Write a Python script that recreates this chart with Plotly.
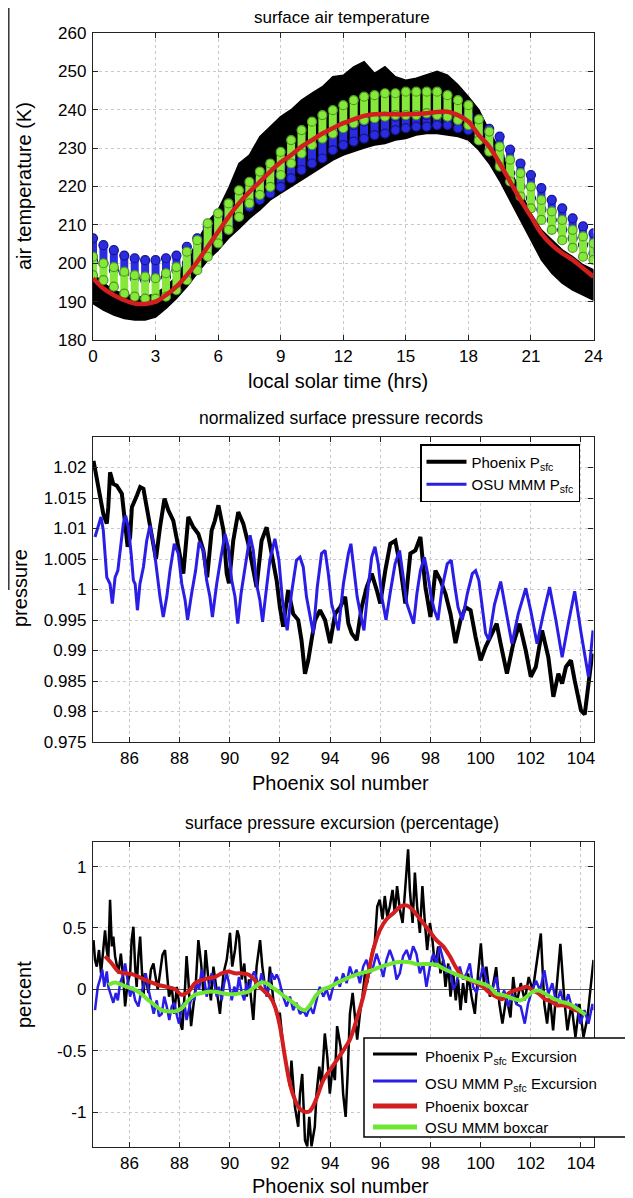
import plotly.graph_objects as go

# ---------------- Panel 1 : surface air temperature ----------------
hours = [0, 0.5, 1, 1.5, 2, 2.5, 3, 3.5, 4, 4.5,
         5, 5.5, 6, 6.5, 7, 7.5, 8, 8.5, 9, 9.5,
         10, 10.5, 11, 11.5, 12, 12.5, 13, 13.5, 14, 14.5,
         15, 15.5, 16, 16.5, 17, 17.5, 18, 18.5, 19, 19.5,
         20, 20.5, 21, 21.5, 22, 22.5, 23, 23.5, 24]

phx_T_hi = [197.4, 194.8, 193.0, 192.0, 191.3, 191.3, 192.1, 194.0, 196.5, 200.8,
            205.6, 210.8, 213.9, 219.5, 226.0, 228.2, 233.0, 235.6, 238.2, 240.0,
            242.5, 244.3, 246.0, 248.6, 249.0, 251.2, 252.5, 249.5, 251.2, 248.6,
            247.7, 248.2, 249.0, 250.0, 249.0, 246.5, 243.4, 240.0, 234.5, 229.5,
            224.5, 218.7, 213.0, 208.7, 206.0, 203.5, 201.7, 199.6, 198.3]
phx_T_lo = [189.5, 187.8, 186.5, 185.6, 185.2, 185.2, 186.0, 188.2, 190.8, 193.9,
            197.4, 200.8, 203.4, 206.5, 209.0, 211.7, 213.9, 216.5, 218.2, 220.0,
            221.7, 223.4, 225.2, 226.9, 228.2, 229.1, 230.0, 230.8, 231.2, 232.1,
            232.5, 233.4, 233.8, 233.8, 233.4, 233.0, 232.1, 229.5, 226.0, 221.5,
            216.5, 211.5, 206.0, 200.9, 197.4, 194.8, 193.0, 191.7, 190.4]

osu_T_hi = [206.5, 204.7, 203.4, 202.0, 201.3, 200.8, 200.8, 201.3, 202.0, 204.3,
            206.5, 209.5, 212.1, 214.7, 217.3, 219.0, 221.7, 223.4, 225.2, 227.8,
            229.5, 230.8, 232.5, 234.3, 235.2, 236.0, 236.9, 237.8, 238.2, 238.2,
            238.6, 238.6, 238.6, 238.6, 239.1, 238.6, 238.6, 237.5, 235.0, 233.0,
            229.6, 226.0, 223.0, 219.6, 216.5, 214.3, 211.7, 209.6, 207.8]
osu_T_lo = [200.8, 200.0, 198.2, 197.4, 196.1, 195.6, 196.1, 196.5, 198.2, 200.0,
            201.7, 204.3, 207.0, 210.4, 212.1, 214.7, 216.5, 218.2, 219.9, 222.1,
            224.3, 226.0, 227.3, 229.5, 230.8, 231.7, 232.5, 233.4, 233.8, 234.7,
            235.2, 235.6, 235.6, 236.0, 236.0, 235.2, 234.7, 233.5, 230.0, 227.8,
            223.5, 220.0, 217.0, 214.0, 211.3, 208.7, 206.5, 204.8, 202.6]

osu_boxT_hi = [201.7, 200.0, 199.0, 197.8, 196.9, 196.5, 196.1, 197.4, 199.0, 203.0,
               206.0, 210.4, 213.0, 215.6, 219.0, 221.2, 223.9, 226.0, 229.0, 232.1,
               234.7, 236.9, 238.6, 239.9, 241.2, 242.5, 243.4, 243.8, 244.3, 244.3,
               244.7, 244.7, 244.7, 244.7, 243.8, 242.5, 241.2, 237.5, 234.3, 230.4,
               227.0, 223.5, 220.0, 216.5, 213.5, 211.3, 208.7, 207.0, 205.2]
osu_boxT_lo = [196.9, 195.6, 193.9, 192.1, 191.3, 190.8, 190.8, 191.3, 193.0, 195.6,
               198.2, 201.7, 205.2, 208.7, 212.1, 215.6, 217.8, 219.9, 223.0, 226.0,
               228.6, 230.8, 232.5, 233.8, 235.2, 236.5, 237.3, 237.8, 238.2, 238.6,
               238.6, 238.6, 239.1, 238.6, 238.2, 237.3, 236.0, 232.0, 229.1, 225.2,
               221.3, 217.4, 214.3, 211.3, 208.7, 206.0, 204.0, 201.7, 200.9]

phx_T_mean = [196.1, 193.4, 191.7, 190.4, 189.5, 189.4, 190.0, 191.7, 193.9, 196.9,
              200.4, 204.3, 208.2, 212.1, 215.6, 218.6, 221.2, 223.9, 226.3, 228.2,
              230.4, 232.1, 233.8, 235.2, 236.5, 237.5, 238.4, 238.8, 238.9, 238.8,
              238.8, 238.9, 239.1, 239.4, 239.5, 238.6, 236.9, 233.4, 230.4, 226.0,
              221.3, 216.5, 212.2, 207.8, 204.8, 202.6, 200.9, 198.7, 196.5]

hour_ticks = [0, 3, 6, 9, 12, 15, 18, 21, 24]
temp_ticks = [180, 190, 200, 210, 220, 230, 240, 250, 260]

# ---------------- Panel 2 : normalized surface pressure ----------------
phx_sol = [84.57, 84.70, 84.83, 84.96, 85.10, 85.16, 85.23, 85.36, 85.50, 85.70,
           85.83, 85.93, 86.03, 86.10, 86.30, 86.43, 86.56, 86.70, 86.90, 87.06,
           87.22, 87.40, 87.55, 87.75, 87.95, 88.15, 88.35, 88.55, 88.75, 88.95,
           89.10, 89.28, 89.41, 89.55, 89.75, 89.88, 89.97, 90.14, 90.34, 90.54,
           90.74, 90.94, 91.07, 91.27, 91.47, 91.67, 91.87, 92.00, 92.13, 92.33,
           92.53, 92.73, 92.86, 93.00, 93.13, 93.26, 93.40, 93.60, 93.80, 94.00,
           94.20, 94.40, 94.60, 94.73, 94.86, 95.06, 95.26, 95.46, 95.66, 95.86,
           96.00, 96.20, 96.40, 96.60, 96.80, 97.00, 97.20, 97.40, 97.60, 97.80,
           98.00, 98.20, 98.40, 98.60, 98.80, 99.00, 99.20, 99.40, 99.60, 99.80,
           100.00, 100.20, 100.40, 100.64, 100.80, 101.05, 101.30, 101.55, 101.80, 102.00,
           102.20, 102.45, 102.70, 102.90, 103.10, 103.25, 103.40, 103.60, 103.75, 104.00,
           104.15, 104.30, 104.45]
phx_p = [1.0211, 1.0184, 1.0151, 1.0124, 1.0108, 1.0135, 1.0192, 1.0173, 1.0170, 1.0157,
         1.0108, 1.0070, 1.0086, 1.0135, 1.0154, 1.0168, 1.0165, 1.0135, 1.0091, 1.0050,
         1.0102, 1.0149, 1.0130, 1.0113, 1.0070, 1.0026, 1.0119, 1.0102, 1.0091, 1.0064,
         1.0020, 1.0097, 1.0113, 1.0138, 1.0097, 1.0026, 1.0010, 1.0080, 1.0127, 1.0108,
         1.0075, 1.0026, 1.0004, 1.0080, 1.0102, 1.0059, 1.0015, 0.9971, 0.9939, 0.9999,
         0.9960, 0.9950, 0.9917, 0.9862, 0.9884, 0.9917, 0.9950, 0.9966, 0.9950, 0.9912,
         0.9960, 0.9971, 0.9988, 0.9944, 0.9928, 0.9917, 0.9971, 1.0004, 1.0026, 0.9999,
         0.9977, 1.0031, 1.0075, 1.0080, 1.0037, 0.9977, 1.0059, 1.0064, 1.0086, 1.0004,
         0.9955, 1.0031, 1.0015, 0.9993, 0.9960, 0.9912, 0.9950, 0.9971, 0.9966, 0.9922,
         0.9884, 0.9906, 0.9922, 0.9944, 0.9911, 0.9862, 0.9911, 0.9944, 0.9900, 0.9857,
         0.9873, 0.9933, 0.9889, 0.9824, 0.9862, 0.9846, 0.9873, 0.9884, 0.9851, 0.9802,
         0.9795, 0.9840, 0.9895]

osu_sol = [84.63, 84.76, 84.87, 84.96, 85.03, 85.10, 85.16, 85.23, 85.32, 85.43,
           85.54, 85.63, 85.76, 85.85, 85.96, 86.07, 86.16, 86.23, 86.32, 86.42,
           86.56, 86.69, 86.82, 86.96, 87.09, 87.22, 87.35, 87.49, 87.62, 87.79,
           87.95, 88.09, 88.22, 88.32, 88.48, 88.64, 88.78, 88.95, 89.08, 89.21,
           89.31, 89.48, 89.65, 89.81, 89.94, 90.08, 90.21, 90.32, 90.45, 90.61,
           90.81, 90.94, 91.07, 91.20, 91.31, 91.47, 91.60, 91.80, 91.96, 92.10,
           92.29, 92.46, 92.66, 92.80, 92.93, 93.06, 93.20, 93.33, 93.49, 93.66,
           93.80, 93.93, 94.06, 94.20, 94.33, 94.53, 94.73, 94.83, 94.95, 95.08,
           95.21, 95.35, 95.52, 95.66, 95.79, 95.92, 96.06, 96.23, 96.39, 96.59,
           96.77, 96.90, 97.06, 97.20, 97.33, 97.46, 97.60, 97.76, 97.89, 98.03,
           98.16, 98.30, 98.47, 98.67, 98.83, 98.96, 99.10, 99.27, 99.47, 99.67,
           99.80, 99.93, 100.07, 100.20, 100.33, 100.55, 100.80, 101.00, 101.25, 101.50,
           101.80, 102.00, 102.25, 102.50, 102.75, 103.00, 103.25, 103.50, 103.75, 104.00,
           104.30, 104.48]
osu_p = [1.0086, 1.0102, 1.0119, 1.0097, 1.0064, 1.0020, 1.0015, 1.0009, 0.9977, 1.0020,
         1.0031, 1.0064, 1.0108, 1.0121, 1.0102, 1.0059, 1.0015, 1.0009, 0.9966, 1.0009,
         1.0037, 1.0080, 1.0105, 1.0075, 1.0026, 0.9988, 0.9955, 0.9988, 1.0031, 1.0075,
         1.0059, 1.0009, 0.9983, 0.9950, 0.9993, 1.0031, 1.0078, 1.0064, 1.0015, 0.9988,
         0.9955, 1.0009, 1.0053, 1.0091, 1.0070, 1.0015, 0.9988, 0.9944, 0.9993, 1.0037,
         1.0089, 1.0064, 1.0009, 0.9983, 0.9947, 1.0004, 1.0048, 1.0083, 1.0048, 0.9983,
         0.9933, 0.9993, 1.0048, 1.0053, 1.0037, 0.9988, 0.9955, 0.9928, 1.0004, 1.0059,
         1.0064, 1.0026, 0.9977, 0.9955, 0.9933, 1.0009, 1.0059, 1.0075, 1.0031, 0.9988,
         0.9960, 0.9933, 1.0004, 1.0053, 1.0070, 1.0042, 0.9988, 0.9950, 0.9993, 1.0042,
         1.0064, 1.0026, 0.9977, 0.9960, 0.9944, 0.9993, 1.0031, 1.0053, 1.0026, 0.9988,
         0.9966, 0.9950, 1.0004, 1.0042, 1.0048, 1.0009, 0.9971, 0.9950, 0.9993, 1.0026,
         1.0031, 1.0015, 0.9971, 0.9928, 0.9917, 0.9975, 1.0013, 0.9965, 0.9911, 0.9960,
         1.0002, 0.9965, 0.9911, 0.9960, 1.0004, 0.9950, 0.9889, 0.9945, 0.9997, 0.9930,
         0.9857, 0.9933]

sol_ticks = [86, 88, 90, 92, 94, 96, 98, 100, 102, 104]
p_ticks = [0.975, 0.98, 0.985, 0.99, 0.995, 1.0, 1.005, 1.01, 1.015, 1.02]
p_ticktext = ["0.975", "0.98", "0.985", "0.99", "0.995", "1", "1.005", "1.01", "1.015", "1.02"]

# ---------------- Panel 3 : surface pressure excursion ----------------
phx_exc_sol = [84.57, 84.63, 84.70, 84.79, 84.87, 84.96, 85.03, 85.10, 85.16, 85.23,
               85.30, 85.36, 85.43, 85.56, 85.66, 85.76, 85.83, 85.93, 86.03, 86.09,
               86.16, 86.23, 86.29, 86.36, 86.43, 86.49, 86.56, 86.62, 86.76, 86.86,
               86.96, 87.02, 87.13, 87.22, 87.32, 87.42, 87.49, 87.58, 87.69, 87.79,
               87.89, 87.98, 88.06, 88.11, 88.22, 88.28, 88.35, 88.46, 88.55, 88.64,
               88.75, 88.86, 88.95, 89.04, 89.15, 89.25, 89.35, 89.48, 89.61, 89.75,
               89.88, 90.01, 90.10, 90.21, 90.30, 90.37, 90.48, 90.58, 90.68, 90.77,
               90.87, 90.94, 91.07, 91.21, 91.30, 91.41, 91.51, 91.60, 91.74, 91.87,
               92.00, 92.13, 92.27, 92.40, 92.46, 92.60, 92.73, 92.80, 92.89, 93.00,
               93.09, 93.17, 93.26, 93.39, 93.46, 93.57, 93.66, 93.79, 93.89, 93.99,
               94.10, 94.19, 94.28, 94.42, 94.52, 94.62, 94.70, 94.79, 94.90, 94.99,
               95.08, 95.19, 95.29, 95.39, 95.48, 95.59, 95.69, 95.78, 95.88, 95.98,
               96.09, 96.18, 96.28, 96.38, 96.49, 96.58, 96.67, 96.78, 96.89, 96.98,
               97.05, 97.11, 97.18, 97.29, 97.38, 97.47, 97.58, 97.68, 97.78, 97.87,
               97.98, 98.08, 98.18, 98.31, 98.40, 98.51, 98.60, 98.71, 98.80, 98.91,
               99.01, 99.10, 99.20, 99.30, 99.41, 99.50, 99.64, 99.77, 99.90, 100.01,
               100.13, 100.23, 100.37, 100.46, 100.62, 100.75, 100.87, 101.03, 101.19, 101.30,
               101.43, 101.60, 101.76, 101.92, 102.08, 102.24, 102.40, 102.54, 102.65, 102.76,
               102.89, 103.02, 103.18, 103.34, 103.46, 103.62, 103.78, 103.94, 104.10, 104.26,
               104.42, 104.50]
phx_exc = [0.40, 0.24, 0.185, 0.32, 0.13, 0.35, 0.48, 0.32, 0.24, 0.73,
           0.35, 0.43, 0.27, 0.13, 0.29, 0.08, -0.14, 0.05, 0.13, 0.40,
           0.51, 0.185, 0.02, 0.27, 0.43, 0.185, -0.06, 0.13, -0.03, 0.16,
           0.21, 0.13, 0.0, 0.13, 0.28, 0.32, 0.13, -0.06, 0.02, -0.20,
           0.02, -0.11, -0.30, -0.33, 0.02, 0.27, 0.08, -0.30, -0.14, 0.02,
           0.40, 0.21, -0.03, 0.32, 0.08, -0.09, 0.185, -0.03, -0.20, 0.13,
           0.24, 0.46, 0.185, 0.32, 0.48, 0.43, 0.08, 0.21, -0.06, 0.08,
           -0.14, -0.25, 0.185, 0.40, 0.185, 0.02, -0.06, 0.185, -0.09, -0.20,
           -0.20, -0.47, -0.63, -0.79, -0.58, -0.96, -1.12, -0.85, -0.69, -1.23,
           -1.28, -1.04, -1.28, -1.12, -0.85, -0.63, -0.79, -0.36, -0.55, -0.85,
           -0.63, -0.74, -0.30, -0.47, -0.85, -1.04, -0.69, -0.20, -0.03, -0.20,
           -0.41, -0.20, -0.06, 0.13, 0.05, 0.185, 0.32, 0.375, 0.675, 0.73,
           0.57, 0.76, 0.59, 0.675, 0.81, 0.62, 0.84, 0.65, 0.54, 0.78,
           0.95, 1.14, 0.81, 0.54, 0.95, 0.675, 0.46, 0.84, 0.54, 0.32,
           0.54, 0.40, 0.185, 0.35, 0.13, 0.24, 0.02, 0.21, -0.06, 0.13,
           -0.09, 0.08, -0.17, 0.05, -0.11, 0.13, -0.06, -0.20, 0.13, 0.375,
           0.05, 0.185, -0.06, -0.01, 0.18, -0.12, -0.28, -0.06, -0.23, 0.10,
           -0.12, 0.05, -0.09, 0.10, -0.01, 0.21, 0.455, -0.12, -0.28, -0.06,
           -0.335, -0.01, 0.37, -0.09, -0.335, -0.12, -0.39, -0.12, -0.39, -0.23,
           0.05, 0.24]

osu_exc_sol = [84.63, 84.74, 84.83, 84.92, 85.00, 85.10, 85.16, 85.27, 85.36, 85.46,
               85.54, 85.63, 85.72, 85.83, 85.93, 86.03, 86.12, 86.23, 86.36, 86.46,
               86.56, 86.65, 86.76, 86.86, 86.97, 87.09, 87.18, 87.29, 87.39, 87.49,
               87.59, 87.69, 87.79, 87.90, 87.98, 88.09, 88.19, 88.28, 88.39, 88.48,
               88.59, 88.68, 88.78, 88.88, 88.99, 89.08, 89.17, 89.28, 89.39, 89.48,
               89.57, 89.68, 89.78, 89.88, 89.97, 90.08, 90.18, 90.28, 90.37, 90.48,
               90.58, 90.67, 90.77, 90.87, 90.98, 91.07, 91.17, 91.27, 91.38, 91.47,
               91.56, 91.67, 91.78, 91.87, 91.96, 92.13, 92.27, 92.40, 92.53, 92.66,
               92.80, 92.93, 93.06, 93.20, 93.33, 93.46, 93.59, 93.73, 93.86, 93.99,
               94.12, 94.26, 94.39, 94.52, 94.66, 94.79, 94.92, 95.05, 95.19, 95.32,
               95.45, 95.59, 95.72, 95.85, 95.98, 96.12, 96.25, 96.38, 96.52, 96.65,
               96.78, 96.91, 97.05, 97.18, 97.31, 97.44, 97.58, 97.71, 97.84, 97.98,
               98.11, 98.24, 98.37, 98.51, 98.64, 98.77, 98.91, 99.04, 99.17, 99.30,
               99.44, 99.57, 99.70, 99.84, 99.97, 100.10, 100.23, 100.37, 100.46, 100.62,
               100.78, 100.94, 101.10, 101.27, 101.43, 101.60, 101.76, 101.89, 102.05, 102.21,
               102.37, 102.54, 102.70, 102.86, 103.02, 103.18, 103.34, 103.50, 103.66, 103.82,
               103.98, 104.14, 104.30, 104.46, 104.50]
osu_exc = [-0.17, 0.02, 0.08, 0.16, 0.02, 0.145, 0.02, -0.06, -0.11, -0.03,
           -0.09, 0.05, 0.10, 0.21, 0.08, -0.06, 0.02, -0.09, -0.14, -0.03,
           0.02, 0.13, 0.0, -0.11, -0.20, -0.09, -0.22, -0.20, -0.06, -0.14,
           -0.25, -0.14, -0.11, -0.22, -0.28, -0.14, -0.11, -0.25, -0.14, -0.06,
           -0.09, 0.05, 0.0, 0.16, 0.08, -0.06, 0.02, 0.13, 0.05, -0.06,
           0.02, -0.09, 0.05, 0.13, 0.05, -0.09, 0.02, -0.03, 0.10, -0.03,
           -0.09, 0.05, -0.03, 0.10, 0.145, 0.08, 0.02, 0.13, 0.05, -0.06,
           0.02, 0.13, 0.08, 0.12, 0.08, -0.06, -0.14, -0.06, -0.17, -0.11,
           -0.20, -0.17, -0.22, -0.14, -0.20, -0.09, 0.02, -0.06, 0.0, -0.09,
           0.02, 0.10, 0.02, 0.13, 0.05, 0.185, 0.10, 0.16, 0.05, 0.185,
           0.24, 0.13, 0.185, 0.29, 0.21, 0.10, 0.24, 0.32, 0.24, 0.08,
           0.13, 0.27, 0.32, 0.24, 0.35, 0.29, 0.13, 0.21, 0.02, 0.185,
           0.29, 0.21, 0.35, 0.24, 0.13, 0.185, 0.0, 0.05, 0.185, 0.08,
           0.13, 0.21, 0.02, -0.03, 0.08, 0.185, 0.08, -0.03, -0.01, 0.10,
           -0.09, -0.01, -0.14, -0.04, -0.12, -0.14, -0.28, -0.12, -0.01, 0.07,
           -0.01, 0.155, -0.04, 0.05, -0.12, -0.01, -0.14, -0.04, -0.17, -0.12,
           -0.28, -0.17, -0.28, -0.12, -0.17]

phx_box_sol = [85.03, 85.30, 85.56, 85.83, 86.16, 86.49, 86.82, 87.16, 87.49, 87.82,
               88.08, 88.35, 88.62, 88.88, 89.15, 89.41, 89.68, 89.94, 90.21, 90.48,
               90.74, 91.00, 91.20, 91.40, 91.60, 91.80, 92.00, 92.20, 92.40, 92.60,
               92.80, 93.05, 93.20, 93.33, 93.53, 93.73, 93.99, 94.26, 94.52, 94.79,
               95.05, 95.32, 95.52, 95.72, 95.98, 96.25, 96.52, 96.78, 96.98, 97.18,
               97.44, 97.71, 97.98, 98.24, 98.51, 98.77, 99.04, 99.30, 99.57, 99.84,
               100.10, 100.30, 100.62, 100.87, 101.10, 101.35, 101.60, 101.84, 102.08, 102.32,
               102.56, 102.81, 103.05, 103.30, 103.54, 103.78, 104.00, 104.14]
phx_box = [0.27, 0.21, 0.145, 0.13, 0.12, 0.09, 0.06, 0.035, 0.02, 0.0,
           -0.045, -0.02, 0.05, 0.075, 0.09, 0.10, 0.13, 0.145, 0.13, 0.13,
           0.12, 0.075, 0.02, -0.02, -0.06, -0.14, -0.30, -0.55, -0.77, -0.90,
           -0.975, -1.0, -0.99, -0.95, -0.85, -0.74, -0.66, -0.58, -0.50, -0.41,
           -0.25, -0.06, 0.13, 0.32, 0.48, 0.57, 0.62, 0.67, 0.685, 0.67,
           0.61, 0.54, 0.47, 0.40, 0.35, 0.27, 0.17, 0.10, 0.075, 0.05,
           0.02, -0.02, -0.06, -0.08, -0.035, -0.01, 0.005, 0.02, -0.01, -0.035,
           -0.08, -0.10, -0.13, -0.13, -0.145, -0.17, -0.185, -0.20]

osu_box_sol = [85.16, 85.43, 85.70, 85.96, 86.23, 86.49, 86.76, 87.02, 87.29, 87.55,
               87.82, 88.08, 88.35, 88.62, 88.88, 89.15, 89.41, 89.68, 89.94, 90.21,
               90.48, 90.74, 91.00, 91.27, 91.47, 91.67, 91.94, 92.20, 92.40, 92.60,
               92.80, 93.00, 93.20, 93.46, 93.73, 93.99, 94.26, 94.52, 94.79, 95.05,
               95.32, 95.59, 95.85, 96.12, 96.38, 96.65, 96.91, 97.18, 97.44, 97.71,
               97.98, 98.24, 98.51, 98.77, 99.04, 99.30, 99.57, 99.84, 100.10, 100.37,
               100.62, 100.94, 101.27, 101.60, 101.84, 102.08, 102.32, 102.56, 102.89, 103.21,
               103.54, 103.86, 104.18]
osu_box = [0.035, 0.055, 0.035, 0.015, -0.005, -0.04, -0.09, -0.13, -0.17, -0.18,
           -0.18, -0.155, -0.09, -0.045, -0.03, -0.02, -0.02, -0.03, -0.04, -0.04,
           -0.03, -0.02, 0.02, 0.055, 0.05, 0.02, -0.02, -0.06, -0.09, -0.12,
           -0.155, -0.17, -0.13, -0.045, 0.0, 0.02, 0.05, 0.075, 0.10, 0.12,
           0.135, 0.15, 0.17, 0.19, 0.205, 0.22, 0.225, 0.22, 0.205, 0.205,
           0.205, 0.20, 0.17, 0.145, 0.12, 0.10, 0.08, 0.06, 0.045, 0.02,
           -0.035, -0.05, -0.075, -0.09, -0.06, -0.02, -0.01, -0.035, -0.075, -0.10,
           -0.12, -0.16, -0.21]

pct_ticks = [-1, -0.5, 0, 0.5, 1]
pct_ticktext = ["-1", "-0.5", "0", "0.5", "1"]

# ---------------- styling ----------------
# the page adds an 8 px body margin, so the figure is offset by (8, 8)
OX, OY = 8, 8
W, H = 625, 1190
FONT = "Liberation Sans, Arial, Helvetica, sans-serif"
BLACK = "#000000"
BLUE = "#2a1ee6"
RED = "#d21e1e"
GREEN = "#6ee632"
CIRC_BLUE = "#2b2be0"
CIRC_BLUE_EDGE = "#14148c"
CIRC_GREEN = "#86e83a"
CIRC_GREEN_EDGE = "#4e9a22"


def px(x):
    return (x - OX) / W


def py(y):
    return 1 - (y - OY) / H


fig = go.Figure()

# Panel 1 -- Phoenix temperature envelope (many sols)
fig.add_trace(go.Scatter(
    x=hours + hours[::-1], y=phx_T_hi + phx_T_lo[::-1],
    fill="toself", fillcolor=BLACK, mode="lines",
    line=dict(color=BLACK, width=1.5), showlegend=False,
    xaxis="x", yaxis="y", hoverinfo="skip"))


def capsule(hi, lo, fill, edge):
    xs, ys = [], []
    for h, a, b in zip(hours, hi, lo):
        xs += [h, h, None]
        ys += [b, a, None]
    fig.add_trace(go.Scatter(x=xs, y=ys, mode="lines",
                             line=dict(color=fill, width=8),
                             showlegend=False, xaxis="x", yaxis="y",
                             hoverinfo="skip"))
    fig.add_trace(go.Scatter(x=hours + hours, y=hi + lo, mode="markers",
                             marker=dict(symbol="circle", size=9, color=fill,
                                         line=dict(color=edge, width=1.2)),
                             showlegend=False, xaxis="x", yaxis="y",
                             hoverinfo="skip"))


capsule(osu_T_hi, osu_T_lo, CIRC_BLUE, CIRC_BLUE_EDGE)
capsule(osu_boxT_hi, osu_boxT_lo, CIRC_GREEN, CIRC_GREEN_EDGE)

fig.add_trace(go.Scatter(x=hours, y=phx_T_mean, mode="lines",
                         line=dict(color=RED, width=4.5, shape="spline"),
                         showlegend=False, xaxis="x", yaxis="y"))

# Panel 2
fig.add_trace(go.Scatter(x=phx_sol, y=phx_p, mode="lines",
                         name="Phoenix P<sub>sfc</sub>",
                         line=dict(color=BLACK, width=4),
                         xaxis="x2", yaxis="y2"))
fig.add_trace(go.Scatter(x=osu_sol, y=osu_p, mode="lines",
                         name="OSU MMM P<sub>sfc</sub>",
                         line=dict(color=BLUE, width=3),
                         xaxis="x2", yaxis="y2"))

# Panel 3
fig.add_trace(go.Scatter(x=phx_exc_sol, y=phx_exc, mode="lines",
                         line=dict(color=BLACK, width=2.5), showlegend=False,
                         xaxis="x3", yaxis="y3"))
fig.add_trace(go.Scatter(x=osu_exc_sol, y=osu_exc, mode="lines",
                         line=dict(color=BLUE, width=2.5), showlegend=False,
                         xaxis="x3", yaxis="y3"))
fig.add_trace(go.Scatter(x=phx_box_sol, y=phx_box, mode="lines",
                         line=dict(color=RED, width=4, shape="spline"),
                         showlegend=False, xaxis="x3", yaxis="y3"))
fig.add_trace(go.Scatter(x=osu_box_sol, y=osu_box, mode="lines",
                         line=dict(color=GREEN, width=4, shape="spline"),
                         showlegend=False, xaxis="x3", yaxis="y3"))

axis_common = dict(
    showline=True, linecolor="#222222", linewidth=1.4, mirror="ticks",
    ticks="inside", ticklen=5, tickwidth=1, tickcolor="#222222",
    showgrid=True, gridcolor="#c9c9c9", griddash="dot", gridwidth=1,
    tickfont=dict(family=FONT, size=17, color="black"),
)

xdom = [px(93), px(593.5)]
layout = dict(
    width=W, height=H,
    margin=dict(l=0, r=0, t=0, b=0, autoexpand=False),
    paper_bgcolor="white", plot_bgcolor="white",
    font=dict(family=FONT, color="black"),
    xaxis=dict(domain=xdom, range=[0, 24], tickvals=hour_ticks, anchor="y",
               ticklabelstandoff=0, zeroline=False, **axis_common),
    yaxis=dict(domain=[py(340), py(33)], range=[180, 260], tickvals=temp_ticks,
               anchor="x", ticklabelstandoff=2, zeroline=False, **axis_common),
    xaxis2=dict(domain=xdom, range=[84.55, 104.5], tickvals=sol_ticks, anchor="y2",
                ticklabelstandoff=0, zeroline=False, **axis_common),
    yaxis2=dict(domain=[py(742), py(437)], range=[0.975, 1.025], tickvals=p_ticks,
                ticktext=p_ticktext, anchor="x2", ticklabelstandoff=2,
                zeroline=False, **axis_common),
    xaxis3=dict(domain=xdom, range=[84.55, 104.5], tickvals=sol_ticks, anchor="y3",
                ticklabelstandoff=0, zeroline=False, **axis_common),
    yaxis3=dict(domain=[py(1147), py(842)], range=[-1.285, 1.2], tickvals=pct_ticks,
                ticktext=pct_ticktext, anchor="x3", ticklabelstandoff=2,
                zeroline=True, zerolinecolor="#555555", zerolinewidth=1.2,
                **axis_common),
    legend=dict(x=px(420), y=py(444), xanchor="left", yanchor="top",
                bgcolor="white", bordercolor="black", borderwidth=1.5,
                font=dict(family=FONT, size=15, color="black"),
                itemwidth=40, tracegroupgap=2),
    showlegend=True,
)
fig.update_layout(**layout)

annotations = []


def text(x, y, s, size, angle=0, xanchor="center"):
    annotations.append(dict(x=px(x), y=py(y), xref="paper", yref="paper",
                            text=s, showarrow=False, textangle=angle,
                            xanchor=xanchor, yanchor="middle",
                            font=dict(family=FONT, size=size, color="black")))


# titles
text(342, 18, "surface air temperature", 17)
text(341, 418, "normalized surface pressure records", 17.5)
text(342, 823, "surface pressure excursion (percentage)", 17.5)
# x axis titles
text(338, 381, "local solar time (hrs)", 20)
text(340, 783, "Phoenix sol number", 20)
text(340, 1186, "Phoenix sol number", 20)
# y axis titles
text(24, 186, "air temperature (K)", 20, angle=-90)
text(20, 588, "pressure", 20, angle=-90)
text(24, 995, "percent", 20, angle=-90)

# manual legend for panel 3 (extends past the right edge)
shapes = [
    dict(type="line", xref="paper", yref="paper", x0=px(8.8), x1=px(8.8),
         y0=py(0), y1=py(590), line=dict(color="#333333", width=1.5)),
    dict(type="rect", xref="paper", yref="paper", x0=px(364), x1=px(720),
         y0=py(1137), y1=py(1038), fillcolor="white",
         line=dict(color="black", width=1.5), layer="above"),
]
leg3 = [("Phoenix P<sub>sfc</sub> Excursion", BLACK, 3, 1054),
        ("OSU MMM P<sub>sfc</sub> Excursion", BLUE, 3, 1081),
        ("Phoenix boxcar", RED, 5, 1106),
        ("OSU MMM boxcar", GREEN, 5, 1127)]
for label, col, wdt, yy in leg3:
    shapes.append(dict(type="line", xref="paper", yref="paper",
                       x0=px(373), x1=px(417), y0=py(yy), y1=py(yy),
                       line=dict(color=col, width=wdt), layer="above"))
    annotations.append(dict(x=px(423), y=py(yy + (3 if "sub" in label else 0)),
                            xref="paper", yref="paper", text=label,
                            showarrow=False, xanchor="left", yanchor="middle",
                            font=dict(family=FONT, size=15, color="black")))

fig.update_layout(annotations=annotations, shapes=shapes)

fig.write_html("out.html")
